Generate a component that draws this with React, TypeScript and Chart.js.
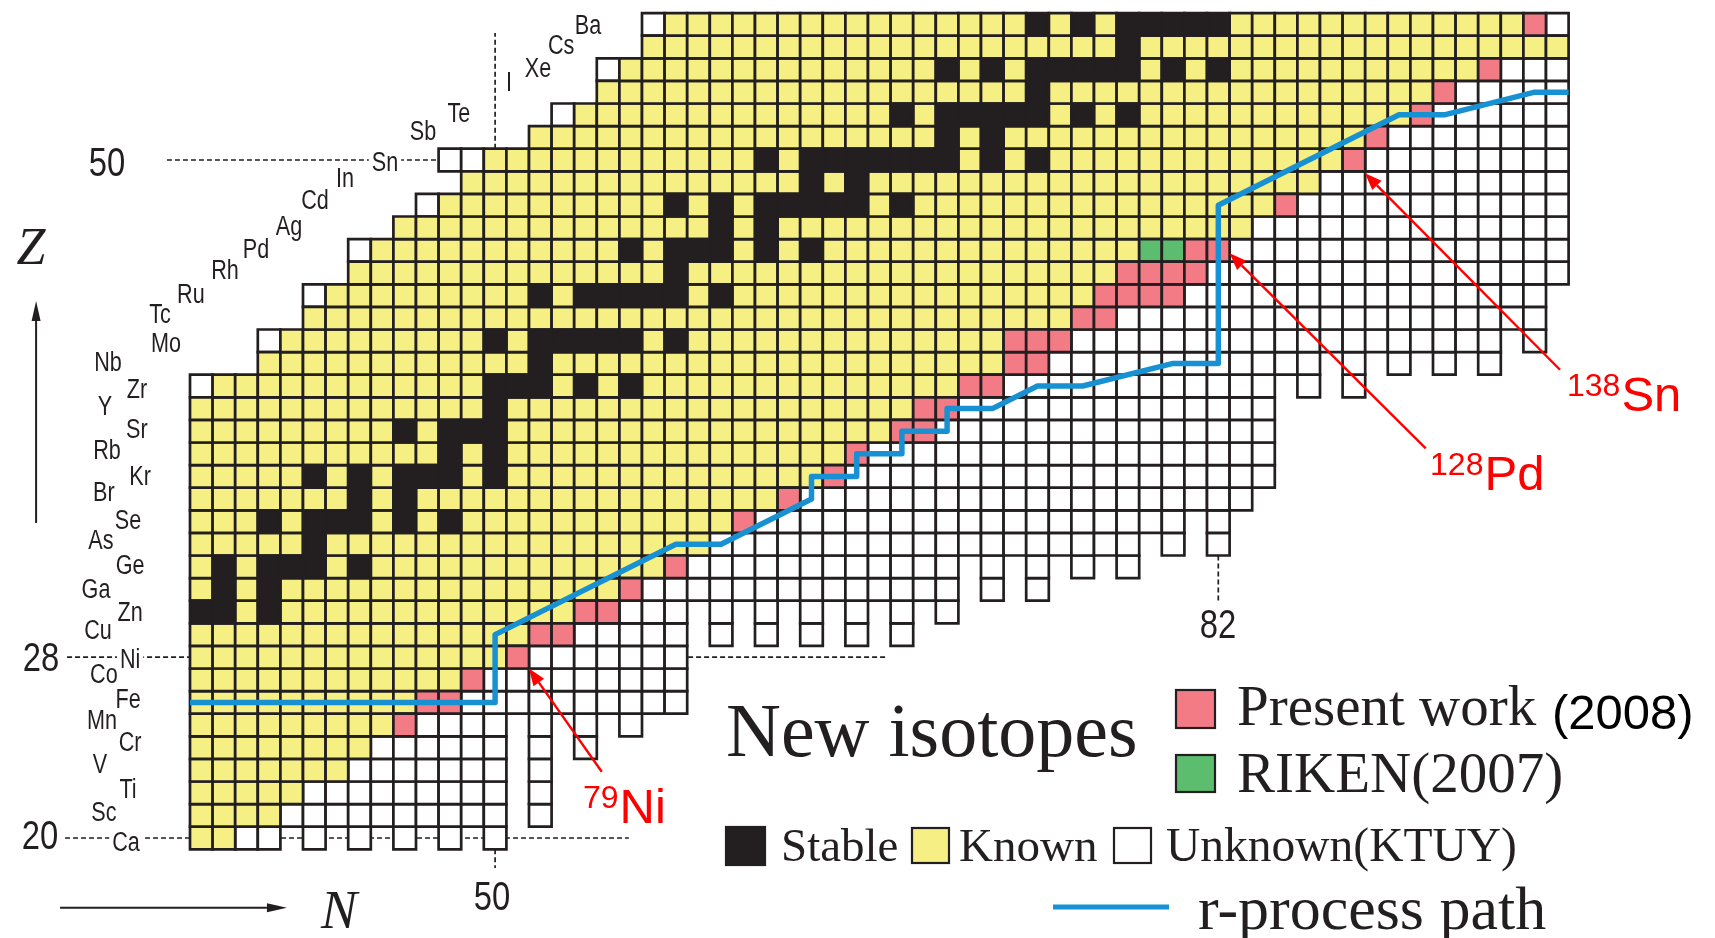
import React, { useEffect, useRef } from 'react';
import { Chart, registerables } from 'chart.js';

Chart.register(...registerables);

// ---------------- data ----------------
const Z_FIRST = 20;
const Z_LAST = 56;
const N_FIRST = 37;
const N_LAST = 97;

const ELEMENTS = ['Ca', 'Sc', 'Ti', 'V', 'Cr', 'Mn', 'Fe', 'Co', 'Ni', 'Cu', 'Zn', 'Ga', 'Ge', 'As', 'Se', 'Br', 'Kr', 'Rb', 'Sr', 'Y', 'Zr', 'Nb', 'Mo', 'Tc', 'Ru', 'Rh', 'Pd', 'Ag', 'Cd', 'In', 'Sn', 'Sb', 'Te', 'I', 'Xe', 'Cs', 'Ba'];

// first N drawn in each row, Z = 20..56
const ROW_START_N = [37, 37, 37, 37, 37, 37, 37, 37, 37, 37, 37, 37, 37, 37, 37, 37, 37, 37, 37, 37, 37, 40, 40, 42, 42, 44, 44, 46, 47, 49, 48, 52, 53, 55, 55, 57, 57];
// first known N in each row, Z = 20..56
const FIRST_KNOWN_N = [37, 37, 37, 37, 37, 37, 37, 37, 37, 37, 37, 37, 37, 37, 37, 37, 37, 37, 37, 37, 38, 40, 41, 42, 43, 44, 45, 46, 48, 49, 50, 52, 54, 55, 56, 57, 58];
// last known N in each row, Z = 20..56
const LAST_KNOWN_N = [38, 40, 41, 43, 44, 45, 46, 48, 50, 51, 53, 55, 57, 59, 60, 62, 64, 65, 67, 68, 70, 72, 72, 75, 76, 77, 78, 83, 84, 86, 87, 88, 90, 91, 93, 97, 95];
// lowest Z drawn in each column, N = 37..97
const COLUMN_BOTTOM_Z = [20, 20, 20, 20, 21, 20, 21, 20, 21, 20, 21, 20, 21, 20, 26, 21, 26, 24, 26, 25, 26, 26, 31, 29, 31, 29, 31, 29, 31, 29, 31, 29, 31, 30, 33, 31, 33, 31, 33, 32, 33, 32, 34, 33, 35, 33, 35, 36, 41, 40, 42, 40, 42, 41, 42, 41, 42, 41, 43, 42, 45];
// stable N in each row, Z = 20..56
const STABLE_N: number[][] = [
  [], [], [], [], [], [], [], [], [], [],
  [37, 38, 40],
  [38, 40],
  [38, 40, 41, 42, 44],
  [42],
  [40, 42, 43, 44, 46, 48],
  [44, 46],
  [42, 44, 46, 47, 48, 50],
  [48, 50],
  [46, 48, 49, 50],
  [50],
  [50, 51, 52, 54, 56],
  [52],
  [50, 52, 53, 54, 55, 56, 58],
  [],
  [52, 54, 55, 56, 57, 58, 60],
  [58],
  [56, 58, 59, 60, 62, 64],
  [60, 62],
  [58, 60, 62, 63, 64, 65, 66, 68],
  [64, 66],
  [62, 64, 65, 66, 67, 68, 69, 70, 72, 74],
  [70, 72],
  [68, 70, 71, 72, 73, 74, 76, 78],
  [74],
  [70, 72, 74, 75, 76, 77, 78, 80, 82],
  [78],
  [74, 76, 78, 79, 80, 81, 82],
];
// new isotopes, [Z, N]
const PRESENT_WORK = [
  [25, 46], [26, 47], [26, 48], [27, 49], [28, 51], [29, 52], [29, 53], [30, 54], [30, 55], [31, 56],
  [32, 58], [34, 61], [35, 63], [36, 65], [37, 66], [38, 68], [38, 69], [39, 69], [39, 70], [40, 71],
  [40, 72], [41, 73], [41, 74], [42, 73], [42, 74], [42, 75], [43, 76], [43, 77], [44, 77], [44, 78],
  [44, 79], [44, 80], [45, 78], [45, 79], [45, 80], [45, 81], [46, 81], [46, 82], [48, 85], [50, 88],
  [51, 89], [52, 91], [53, 92], [54, 94], [56, 96],
];
const RIKEN_2007 = [[46, 79], [46, 80]];
// r-process path vertices, [N, Z]
const R_PROCESS_PATH = [
  [36.5, 26], [50, 26], [50, 29], [58, 33], [60, 33], [64, 35], [64, 36], [66, 36], [66, 37], [68, 37],
  [68, 38], [70, 38], [70, 39], [72, 39], [74, 40], [76, 40], [80, 41], [82, 41], [82, 48], [90, 52],
  [92, 52], [96, 53], [97.5, 53],
];
const MAGIC_Z = ['20', '28', '50'];
const MAGIC_N = ['50', '82'];
const HIGHLIGHT_MASS = ['79', '128', '138'];
const HIGHLIGHT_SYMBOL = ['Ni', 'Pd', 'Sn'];

// ---------------- layout / style ----------------
const CANVAS_W = 1715;
const CANVAS_H = 938;
const CELL_PX = 22.6;
const GRID_LEFT_PX = 190;
const GRID_BOTTOM_PX = 849.3;
const X_MIN = N_FIRST - 0.5 - GRID_LEFT_PX / CELL_PX;
const X_MAX = X_MIN + CANVAS_W / CELL_PX;
const Y_MAX = Z_FIRST - 0.5 + GRID_BOTTOM_PX / CELL_PX;
const Y_MIN = Y_MAX - CANVAS_H / CELL_PX;

const INK = '#231f20';
const YELLOW = '#f5ef84';
const PINK = '#f37b86';
const GREEN = '#5cbd6f';
const BLUE = '#1791d2';
const RED = '#ff0000';
const GRID_LINE = '#231f20';
const SANS = '"Liberation Sans", Arial, sans-serif';
const SERIF = '"Liberation Serif", "Times New Roman", serif';

// label centres in (N, Z) units, one per element
const ELEMENT_LABEL_POS = [
  [33.67, 19.91], [32.69, 21.24], [33.76, 22.26], [32.52, 23.36], [33.85, 24.34], [32.61, 25.31],
  [33.76, 26.24], [32.69, 27.34], [33.85, 28.01], [32.43, 29.29], [33.85, 30.09], [32.34, 31.11],
  [33.85, 32.17], [32.56, 33.28], [33.76, 34.16], [32.69, 35.4], [34.29, 36.11], [32.83, 37.26],
  [34.15, 38.19], [32.74, 39.21], [34.15, 39.96], [32.87, 41.15], [35.44, 41.99], [35.17, 43.27],
  [36.54, 44.16], [38.05, 45.22], [39.42, 46.15], [40.88, 47.17], [42.03, 48.32], [43.36, 49.29],
  [45.13, 50.0], [46.81, 51.37], [48.4, 52.16], [50.62, 53.53], [51.9, 54.15], [52.92, 55.17],
  [54.11, 56.06],
];
const LABEL_DY_PX = 3.5;
const MAGIC_Z_POS = [[29.86, 20.02], [29.91, 27.88], [32.83, 49.79]];
const MAGIC_N_POS = [[49.86, 17.3], [81.99, 29.32]];
const GUIDE_LINES = [
  [35.48, 50, 47.5, 50],
  [31.06, 28, 36.5, 28],
  [58.54, 28, 67.34, 28],
  [30.97, 20, 55.92, 20],
  [50, 50.5, 50, 55.62],
  [50, 19.5, 50, 18.67],
  [82, 32.5, 82, 30.44],
];
// highlight: text anchor (N,Z), arrow tail (N,Z), arrow tip (N,Z)
const HIGHLIGHT_LAYOUT = [
  { text: [53.89, 20.66], tail: [54.72, 22.93], tip: [51.5, 27.5] },
  { text: [91.37, 35.4], tail: [91.18, 37.24], tip: [82.5, 45.87] },
  { text: [97.43, 38.89], tail: [97.12, 40.72], tip: [88.49, 49.41] },
];

type Pt = { x: number; y: number };

function buildCells() {
  const stable: Pt[] = [];
  const known: Pt[] = [];
  const present: Pt[] = [];
  const riken: Pt[] = [];
  const unknown: Pt[] = [];
  const has = (list: number[][], z: number, n: number) => list.some(([zz, nn]) => zz === z && nn === n);
  for (let z = Z_FIRST; z <= Z_LAST; z++) {
    const i = z - Z_FIRST;
    for (let n = ROW_START_N[i]; n <= N_LAST; n++) {
      if (z < COLUMN_BOTTOM_Z[n - N_FIRST]) continue;
      const p = { x: n, y: z };
      if (has(RIKEN_2007, z, n)) riken.push(p);
      else if (has(PRESENT_WORK, z, n)) present.push(p);
      else if (n >= FIRST_KNOWN_N[i] && n <= LAST_KNOWN_N[i]) {
        if (STABLE_N[i].includes(n)) stable.push(p);
        else known.push(p);
      } else unknown.push(p);
    }
  }
  return { stable, known, present, riken, unknown };
}

const cellRadius = (ctx: any) => {
  const xs = ctx.chart.scales.x;
  return Math.abs(xs.getPixelForValue(1) - xs.getPixelForValue(0)) / Math.SQRT2;
};

function cellDataset(label: string, data: Pt[], fill: string) {
  return {
    label,
    data,
    pointStyle: 'rect',
    pointRadius: cellRadius,
    pointHoverRadius: cellRadius,
    backgroundColor: fill,
    borderColor: GRID_LINE,
    borderWidth: 2.7,
    showLine: false,
  };
}

function drawText(ctx: CanvasRenderingContext2D, s: string, x: number, y: number, font: string, color: string, align: CanvasTextAlign, baseline: CanvasTextBaseline, sx = 1) {
  ctx.save();
  ctx.font = font;
  ctx.fillStyle = color;
  ctx.textAlign = align;
  ctx.textBaseline = baseline;
  ctx.translate(x, y);
  ctx.scale(sx, 1);
  ctx.fillText(s, 0, 0);
  ctx.restore();
}

function drawArrow(ctx: CanvasRenderingContext2D, x1: number, y1: number, x2: number, y2: number, color: string, width: number, headLen: number, headW: number) {
  const a = Math.atan2(y2 - y1, x2 - x1);
  const bx = x2 - headLen * Math.cos(a);
  const by = y2 - headLen * Math.sin(a);
  ctx.save();
  ctx.strokeStyle = color;
  ctx.fillStyle = color;
  ctx.lineWidth = width;
  ctx.setLineDash([]);
  ctx.beginPath();
  ctx.moveTo(x1, y1);
  ctx.lineTo(bx, by);
  ctx.stroke();
  ctx.beginPath();
  ctx.moveTo(x2, y2);
  ctx.lineTo(bx + (headW / 2) * Math.sin(a), by - (headW / 2) * Math.cos(a));
  ctx.lineTo(bx - (headW / 2) * Math.sin(a), by + (headW / 2) * Math.cos(a));
  ctx.closePath();
  ctx.fill();
  ctx.restore();
}

function legendSquare(ctx: CanvasRenderingContext2D, x: number, y: number, w: number, h: number, fill: string) {
  ctx.save();
  ctx.fillStyle = fill;
  ctx.fillRect(x, y, w, h);
  ctx.strokeStyle = INK;
  ctx.lineWidth = 2.2;
  ctx.strokeRect(x, y, w, h);
  ctx.restore();
}

const decorPlugin = {
  id: 'decor',
  beforeDatasetsDraw(chart: any) {
    const ctx: CanvasRenderingContext2D = chart.ctx;
    const X = (v: number) => chart.scales.x.getPixelForValue(v);
    const Y = (v: number) => chart.scales.y.getPixelForValue(v);
    ctx.save();
    ctx.strokeStyle = INK;
    ctx.lineWidth = 1.7;
    ctx.setLineDash([5, 3]);
    for (const [n1, z1, n2, z2] of GUIDE_LINES) {
      ctx.beginPath();
      ctx.moveTo(X(n1), Y(z1));
      ctx.lineTo(X(n2), Y(z2));
      ctx.stroke();
    }
    ctx.restore();
  },
  afterDatasetsDraw(chart: any) {
    const ctx: CanvasRenderingContext2D = chart.ctx;
    const X = (v: number) => chart.scales.x.getPixelForValue(v);
    const Y = (v: number) => chart.scales.y.getPixelForValue(v);
    const L = chart.chartArea.left;
    const T = chart.chartArea.top;

    // element symbols
    const labelFont = `27px ${SANS}`;
    const labelSx = 0.8;
    ELEMENTS.forEach((sym, i) => {
      const [n, z] = ELEMENT_LABEL_POS[i];
      const x = X(n);
      const y = Y(z) + LABEL_DY_PX;
      if (sym === 'Ca' || sym === 'Ni' || sym === 'Sn') {
        ctx.save();
        ctx.font = labelFont;
        const w = ctx.measureText(sym).width * labelSx;
        ctx.fillStyle = '#ffffff';
        ctx.fillRect(x - w / 2 - 3, y - 12, w + 6, 22);
        ctx.restore();
      }
      drawText(ctx, sym, x, y, labelFont, INK, 'center', 'middle', labelSx);
    });

    // magic numbers
    MAGIC_Z.forEach((t, i) => {
      const [n, z] = MAGIC_Z_POS[i];
      drawText(ctx, t, X(n), Y(z), `40px ${SANS}`, INK, 'center', 'middle', 0.82);
    });
    MAGIC_N.forEach((t, i) => {
      const [n, z] = MAGIC_N_POS[i];
      drawText(ctx, t, X(n), Y(z), `40px ${SANS}`, INK, 'center', 'middle', 0.82);
    });

    // axis arrows
    drawArrow(ctx, X(29.69), Y(33.94), X(29.69), Y(43.76), INK, 2, 20, 9);
    drawText(ctx, 'Z', X(29.46), Y(46.07) + 2, `italic 52px ${SERIF}`, INK, 'center', 'middle');
    drawArrow(ctx, X(30.75), Y(16.91), X(40.79), Y(16.91), INK, 2, 20, 9);
    drawText(ctx, 'N', X(43.09), Y(16.77) + 3, `italic 54px ${SERIF}`, INK, 'center', 'middle');

    // highlighted new isotopes
    HIGHLIGHT_LAYOUT.forEach((h, i) => {
      drawArrow(ctx, X(h.tail[0]), Y(h.tail[1]), X(h.tip[0]), Y(h.tip[1]), RED, 2.4, 17, 13);
      const x0 = X(h.text[0]);
      const yb = Y(h.text[1]);
      ctx.save();
      ctx.font = `32px ${SANS}`;
      const wMass = ctx.measureText(HIGHLIGHT_MASS[i]).width;
      ctx.restore();
      drawText(ctx, HIGHLIGHT_MASS[i], x0, yb - 15, `32px ${SANS}`, RED, 'left', 'alphabetic');
      drawText(ctx, HIGHLIGHT_SYMBOL[i], x0 + wMass + 1, yb, `49px ${SANS}`, RED, 'left', 'alphabetic');
    });

    // legend
    drawText(ctx, 'New isotopes', L + 726, T + 756, `76px ${SERIF}`, INK, 'left', 'alphabetic');
    legendSquare(ctx, L + 1176, T + 690, 39, 38, PINK);
    drawText(ctx, 'Present work', L + 1237, T + 725, `57px ${SERIF}`, INK, 'left', 'alphabetic');
    drawText(ctx, '(2008)', L + 1552, T + 729, `49px ${SANS}`, '#000000', 'left', 'alphabetic');
    legendSquare(ctx, L + 1176, T + 755, 39, 37, GREEN);
    drawText(ctx, 'RIKEN(2007)', L + 1237, T + 792, `57px ${SERIF}`, INK, 'left', 'alphabetic');
    legendSquare(ctx, L + 726, T + 827, 39, 38, INK);
    drawText(ctx, 'Stable', L + 781, T + 861, `47px ${SERIF}`, INK, 'left', 'alphabetic');
    legendSquare(ctx, L + 912, T + 828, 37, 35, YELLOW);
    drawText(ctx, 'Known', L + 959, T + 861, `47px ${SERIF}`, INK, 'left', 'alphabetic');
    legendSquare(ctx, L + 1114, T + 828, 37, 35, '#ffffff');
    drawText(ctx, 'Unknown(KTUY)', L + 1166, T + 861, `47.5px ${SERIF}`, INK, 'left', 'alphabetic');
    ctx.save();
    ctx.strokeStyle = BLUE;
    ctx.lineWidth = 5;
    ctx.beginPath();
    ctx.moveTo(L + 1053, T + 907);
    ctx.lineTo(L + 1169, T + 907);
    ctx.stroke();
    ctx.restore();
    drawText(ctx, 'r-process path', L + 1198, T + 929, `62px ${SERIF}`, INK, 'left', 'alphabetic');
  },
};

export default function App() {
  const canvasRef = useRef<HTMLCanvasElement>(null);

  useEffect(() => {
    const canvas = canvasRef.current;
    if (!canvas) return;
    const cells = buildCells();
    const chart = new Chart(canvas, {
      type: 'scatter',
      data: {
        datasets: [
          {
            label: 'r-process path',
            data: R_PROCESS_PATH.map(([n, z]) => ({ x: n, y: z })),
            showLine: true,
            borderColor: BLUE,
            backgroundColor: BLUE,
            borderWidth: 5.5,
            borderJoinStyle: 'round',
            pointRadius: 0,
            pointHoverRadius: 0,
            tension: 0,
            fill: false,
          } as any,
          cellDataset('Present work (2008)', cells.present, PINK),
          cellDataset('RIKEN(2007)', cells.riken, GREEN),
          cellDataset('Stable', cells.stable, INK),
          cellDataset('Known', cells.known, YELLOW),
          cellDataset('Unknown(KTUY)', cells.unknown, '#ffffff'),
        ],
      },
      options: {
        animation: false,
        responsive: true,
        maintainAspectRatio: false,
        events: [],
        layout: { padding: 0 },
        scales: {
          x: { type: 'linear', min: X_MIN, max: X_MAX, display: false },
          y: { type: 'linear', min: Y_MIN, max: Y_MAX, display: false },
        },
        plugins: {
          legend: { display: false },
          tooltip: { enabled: false },
        },
      },
      plugins: [decorPlugin],
    } as any);
    return () => chart.destroy();
  }, []);

  return (
    <div style={{ position: 'fixed', left: 0, top: 0, width: CANVAS_W + 'px', height: CANVAS_H + 'px', background: '#ffffff' }}>
      <canvas ref={canvasRef} />
    </div>
  );
}
